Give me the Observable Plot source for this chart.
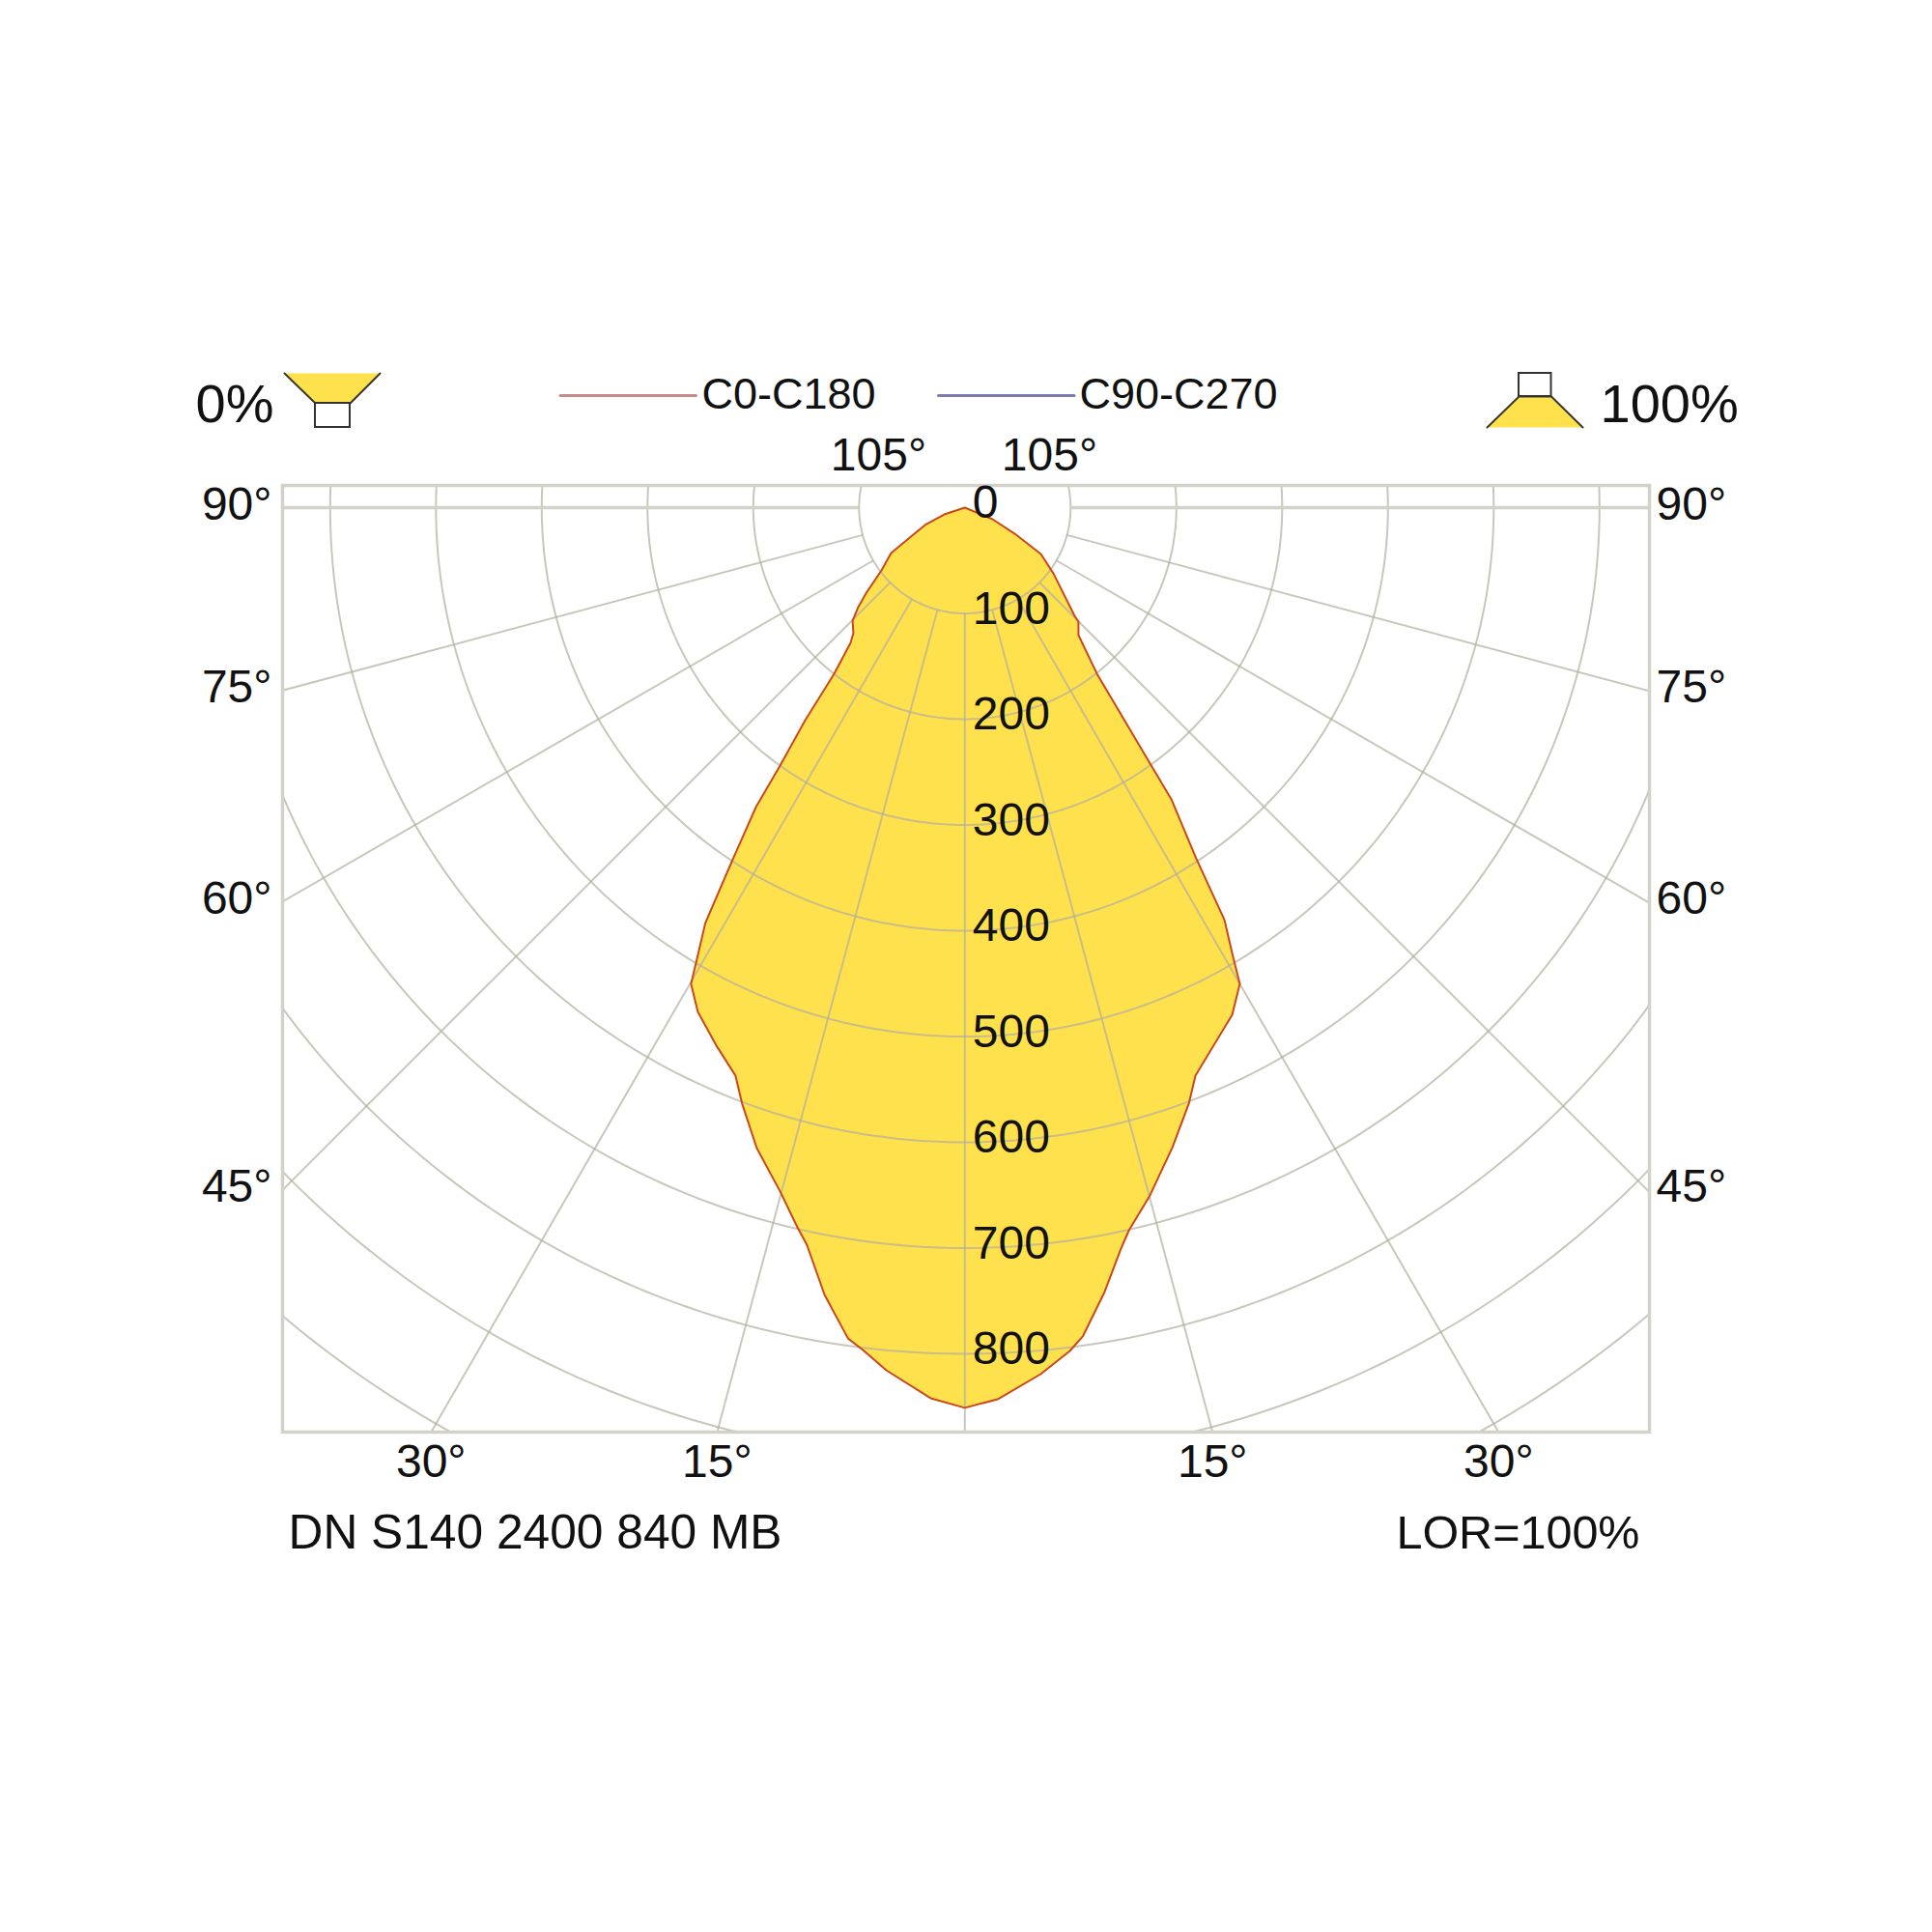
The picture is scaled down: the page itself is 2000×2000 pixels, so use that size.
<!DOCTYPE html>
<html><head><meta charset="utf-8">
<style>html,body{margin:0;padding:0;background:#fff}</style>
<script src="https://cdn.jsdelivr.net/npm/d3@7"></script>
<script src="https://cdn.jsdelivr.net/npm/@observablehq/plot@0.6"></script>
</head><body><div id="chart"></div><script>
// Luminous intensity (cd/klm), top to bottom of the outline
const gammaLeft = [90,71.8,66.5,61.2,58.4,53,49.3,47,44.8,41.6,40.2,38.2,36.9,35.6,34.9,33.4,32,30.7,29.9,27.9,24.7,22,20.5,18,15.1,13.1,12.1,10.1,8,6.9,5.2,2.2,0];
const cdLeft    = [0,20.5,41,60.7,81.8,98.7,122,137.8,150.6,158.7,167.4,199.8,251.3,300,345.2,399,462.9,496,519.3,539.4,560.8,579,601.4,636.6,669.8,698.5,712.6,756,793.2,802.1,818.9,842.6,851];
const gammaRight = [90,67.3,62.4,58.6,53.4,45.4,44.9,41.7,38.5,35.9,35.3,33.4,32.2,31,30,27.8,22.1,20.6,18,15,12.8,11.9,10.1,8.1,7.1,5,2.1,0];
const cdRight    = [0,28.4,53.3,84.2,104.3,145.7,152.2,161.5,200.6,298.7,337.9,397.3,460.7,490.2,519.9,542,579.5,601.9,635.6,674.2,700.5,715.9,753.2,791.4,803.4,822.3,843.5,851];

const ringValues = [100,200,300,400,500,600,700,800,900,1000];
const spokeAngles = [-90,-75,-60,-45,-30,-15,0,15,30,45,60,75,90];
const valueLabels = [0,100,200,300,400,500,600,700,800];
const sideAngles = [90,75,60,45];
const bottomAngles = [30,15];
const topAngle = 105;
const seriesNames = ["C0-C180","C90-C270"];
const seriesColors = ["#c98a8a","#7c7cb4"];
const productName = "DN S140 2400 840 MB";
const lorText = "LOR=100%";

// page layout
const W = 2000, L = 292, R = 1707, T = 502, B = 1482, CX = 998.3, CY = 525, K = 1.095;
const ux = p => (p - CX) / K, uy = p => (p - CY) / K;
const rad = d => d * Math.PI / 180;
const polar = (g, r) => ({x: r * Math.sin(rad(g)), y: r * Math.cos(rad(g))});

const outline = [
  ...gammaLeft.map((g, i) => polar(-g, cdLeft[i])),
  ...gammaRight.map((g, i) => polar(g, cdRight[i])).reverse()
];
const rings = ringValues.flatMap(r => d3.range(-125, 125.5, 1).map(g => ({r, ...polar(g, r)})));
const spokes = spokeAngles.map(g => {
  const a = polar(g, ringValues[0]), b = polar(g, 1400);
  return {x1: a.x, y1: a.y, x2: b.x, y2: b.y};
});

const GRID = "#b0af9f", FRAME = "#d3d2ca", INK = "#111", YEL = "#ffe14d", LINE = "#c9481c";
const FONT = "Liberation Sans, Arial, sans-serif";
const txt = (rows, o) => Plot.text(rows, {x: "x", y: "y", text: "t", lineAnchor: "bottom", fill: INK, fontFamily: FONT, fontSize: 48, ...o});

const xL = ux(L), xR = ux(R), yB = uy(B);
const sideL = sideAngles.map(a => ({x: xL, y: Math.abs(xL) / Math.tan(rad(a)) , t: a + "°"}));
const sideR = sideAngles.map(a => ({x: xR, y: Math.abs(xL) / Math.tan(rad(a)), t: a + "°"}));
const bottoms = bottomAngles.flatMap(a => [-1, 1].map(s => ({x: s * yB * Math.tan(rad(a)), y: yB, t: a + "°"})));

const poly = pts => pts.map(([x, y]) => ({x: ux(x), y: uy(y)}));
const iconA = poly([[294,386],[393,386],[362,417],[326,417]]);
const iconB = poly([[1539,442],[1638,442],[1605.5,410],[1572,410]]);
const boxA = [{x1: ux(326), x2: ux(362), y1: uy(417), y2: uy(442)}];
const boxB = [{x1: ux(1572), x2: ux(1605.5), y1: uy(386), y2: uy(410)}];
const sideStroke = pts => [pts[0], pts[3], pts[2], pts[1]];

const chart = Plot.plot({
  width: W, height: W,
  marginLeft: L, marginRight: W - R, marginTop: T, marginBottom: W - B,
  style: {background: "#fff", fontFamily: FONT, color: INK},
  x: {domain: [ux(L), ux(R)], axis: null},
  y: {domain: [uy(B), uy(T)], axis: null},
  marks: [
    Plot.line(outline, {x: "x", y: "y", fill: YEL, stroke: "none", clip: "frame"}),
    Plot.line(rings, {x: "x", y: "y", z: "r", stroke: GRID, strokeOpacity: 0.7, strokeWidth: 2, clip: "frame"}),
    Plot.link(spokes, {x1: "x1", y1: "y1", x2: "x2", y2: "y2", stroke: GRID, strokeOpacity: 0.7, strokeWidth: 2, clip: "frame"}),
    Plot.ruleY([0], {x1: xL, x2: ux(CX - 109.5), stroke: FRAME, strokeWidth: 3.5}),
    Plot.ruleY([0], {x1: ux(CX + 109.5), x2: xR, stroke: FRAME, strokeWidth: 3.5}),
    Plot.frame({stroke: FRAME, strokeWidth: 3.5}),
    Plot.line([...outline, outline[0]], {x: "x", y: "y", stroke: LINE, strokeWidth: 2, strokeLinejoin: "round", clip: "frame"}),

    txt(valueLabels.map(v => ({x: 0, y: v, t: String(v)})), {textAnchor: "start", dx: 8, dy: 10.5}),
    txt(sideL, {textAnchor: "end", dx: -11, dy: 12.5}),
    txt(sideR, {textAnchor: "start", dx: 7, dy: 12.5}),
    txt(bottoms, {textAnchor: "middle", dy: 46}),
    txt([{x: ux(909), y: uy(486), t: topAngle + "°"}, {x: ux(1086), y: uy(486), t: topAngle + "°"}], {textAnchor: "middle"}),
    txt([{x: ux(298), y: uy(1602), t: productName}], {textAnchor: "start", fontSize: 49.7}),
    txt([{x: ux(1697), y: uy(1602), t: lorText}], {textAnchor: "end", fontSize: 48.5}),

    Plot.line([{x: ux(579.5), y: uy(409)}, {x: ux(720), y: uy(409)}], {x: "x", y: "y", stroke: seriesColors[0], strokeWidth: 3}),
    Plot.line([{x: ux(971), y: uy(409)}, {x: ux(1111.5), y: uy(409)}], {x: "x", y: "y", stroke: seriesColors[1], strokeWidth: 3}),
    txt([{x: ux(726), y: uy(422), t: seriesNames[0]}, {x: ux(1117), y: uy(422), t: seriesNames[1]}], {textAnchor: "start", fontSize: 45}),

    txt([{x: ux(202), y: uy(436), t: "0%"}], {textAnchor: "start", fontSize: 56}),
    txt([{x: ux(1656), y: uy(436), t: "100%"}], {textAnchor: "start", fontSize: 56}),

    Plot.line(iconA, {x: "x", y: "y", fill: YEL, stroke: "none"}),
    Plot.line(sideStroke(iconA), {x: "x", y: "y", stroke: "#3a3a2a", strokeWidth: 2}),
    Plot.rect(boxA, {x1: "x1", x2: "x2", y1: "y1", y2: "y2", fill: "#fff", stroke: "#333", strokeWidth: 2}),
    Plot.line(iconB, {x: "x", y: "y", fill: YEL, stroke: "none"}),
    Plot.line(sideStroke(iconB), {x: "x", y: "y", stroke: "#3a3a2a", strokeWidth: 2}),
    Plot.rect(boxB, {x1: "x1", x2: "x2", y1: "y1", y2: "y2", fill: "#fff", stroke: "#333", strokeWidth: 2})
  ]
});
document.getElementById("chart").append(chart);
</script></body></html>
